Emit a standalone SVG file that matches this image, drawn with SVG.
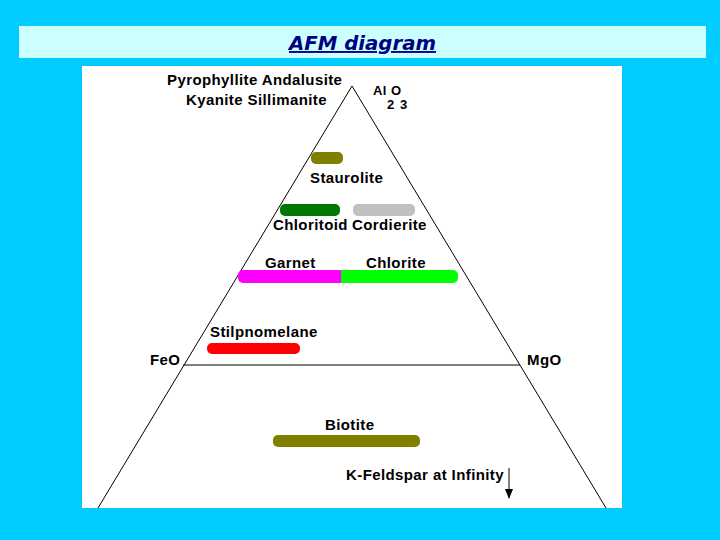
<svg xmlns="http://www.w3.org/2000/svg" width="720" height="540" viewBox="0 0 720 540">
<style>
text{font-family:"Liberation Sans",Arial,sans-serif;font-size:15px;font-weight:bold;letter-spacing:0.4px;fill:#000}
.ln{stroke:#000;stroke-width:1;fill:none}
.f{font-size:13px}
</style>
<defs>
<marker id="ah" markerWidth="10" markerHeight="8" refX="9" refY="4" orient="auto" markerUnits="userSpaceOnUse">
<path d="M0,0 L10,4 L0,8 Z" fill="#000"/>
</marker>
</defs>
<rect width="720" height="540" fill="#00CCFF"/>
<rect x="19" y="26" width="687" height="32" fill="#CCFFFF"/>
<text x="289" y="50" textLength="147" lengthAdjust="spacingAndGlyphs" style="font-family:'DejaVu Sans',Verdana,sans-serif;font-size:19px;font-style:italic;letter-spacing:0;fill:#000080;text-decoration:underline">AFM diagram</text>
<rect x="82" y="66" width="540" height="442" fill="#FFFFFF"/>
<g id="connectors">
<line class="ln" x1="352" y1="86" x2="98" y2="508"/>
<line class="ln" x1="352" y1="86" x2="606" y2="508"/>
<line class="ln" x1="183" y1="365" x2="520" y2="365"/>
<line class="ln" x1="509" y1="468" x2="509" y2="498" marker-end="url(#ah)" stroke-width="2"/>
</g>
<g id="apex"><text x="167" y="85">Pyrophyllite Andalusite</text><text x="186" y="105">Kyanite Sillimanite</text>
<text class="f" x="373" y="95">Al<tspan x="391">O</tspan></text><text class="f" x="387" y="109">2<tspan x="400">3</tspan></text></g>
<g id="staurolite"><rect x="311" y="152" width="32" height="12" rx="5" fill="#808000"/><text x="310" y="183">Staurolite</text></g>
<g id="chloritoid"><rect x="280" y="204" width="60" height="12" rx="5" fill="#007700"/><text x="273" y="230">Chloritoid</text></g>
<g id="cordierite"><rect x="353" y="204" width="62" height="12" rx="5" fill="#C0C0C0"/><text x="352" y="230">Cordierite</text></g>
<g id="garnet"><rect x="238" y="270" width="110" height="13" rx="5" fill="#FF00FF"/><text x="265" y="268">Garnet</text></g>
<g id="chlorite"><rect x="341" y="270" width="117" height="13" rx="5" fill="#00FF00"/><rect x="341" y="270" width="8" height="13" fill="#00FF00"/><text x="366" y="268">Chlorite</text></g>
<g id="stilpnomelane"><rect x="207" y="343" width="93" height="11" rx="5" fill="#FF0000"/><text x="210" y="337">Stilpnomelane</text></g>
<g id="feo"><text x="150" y="365">FeO</text></g>
<g id="mgo"><text x="527" y="365">MgO</text></g>
<g id="biotite"><rect x="273" y="435" width="147" height="12" rx="5" fill="#808000"/><text x="325" y="430">Biotite</text></g>
<g id="kfeldspar"><text x="346" y="480">K-Feldspar at Infinity</text></g>
</svg>
